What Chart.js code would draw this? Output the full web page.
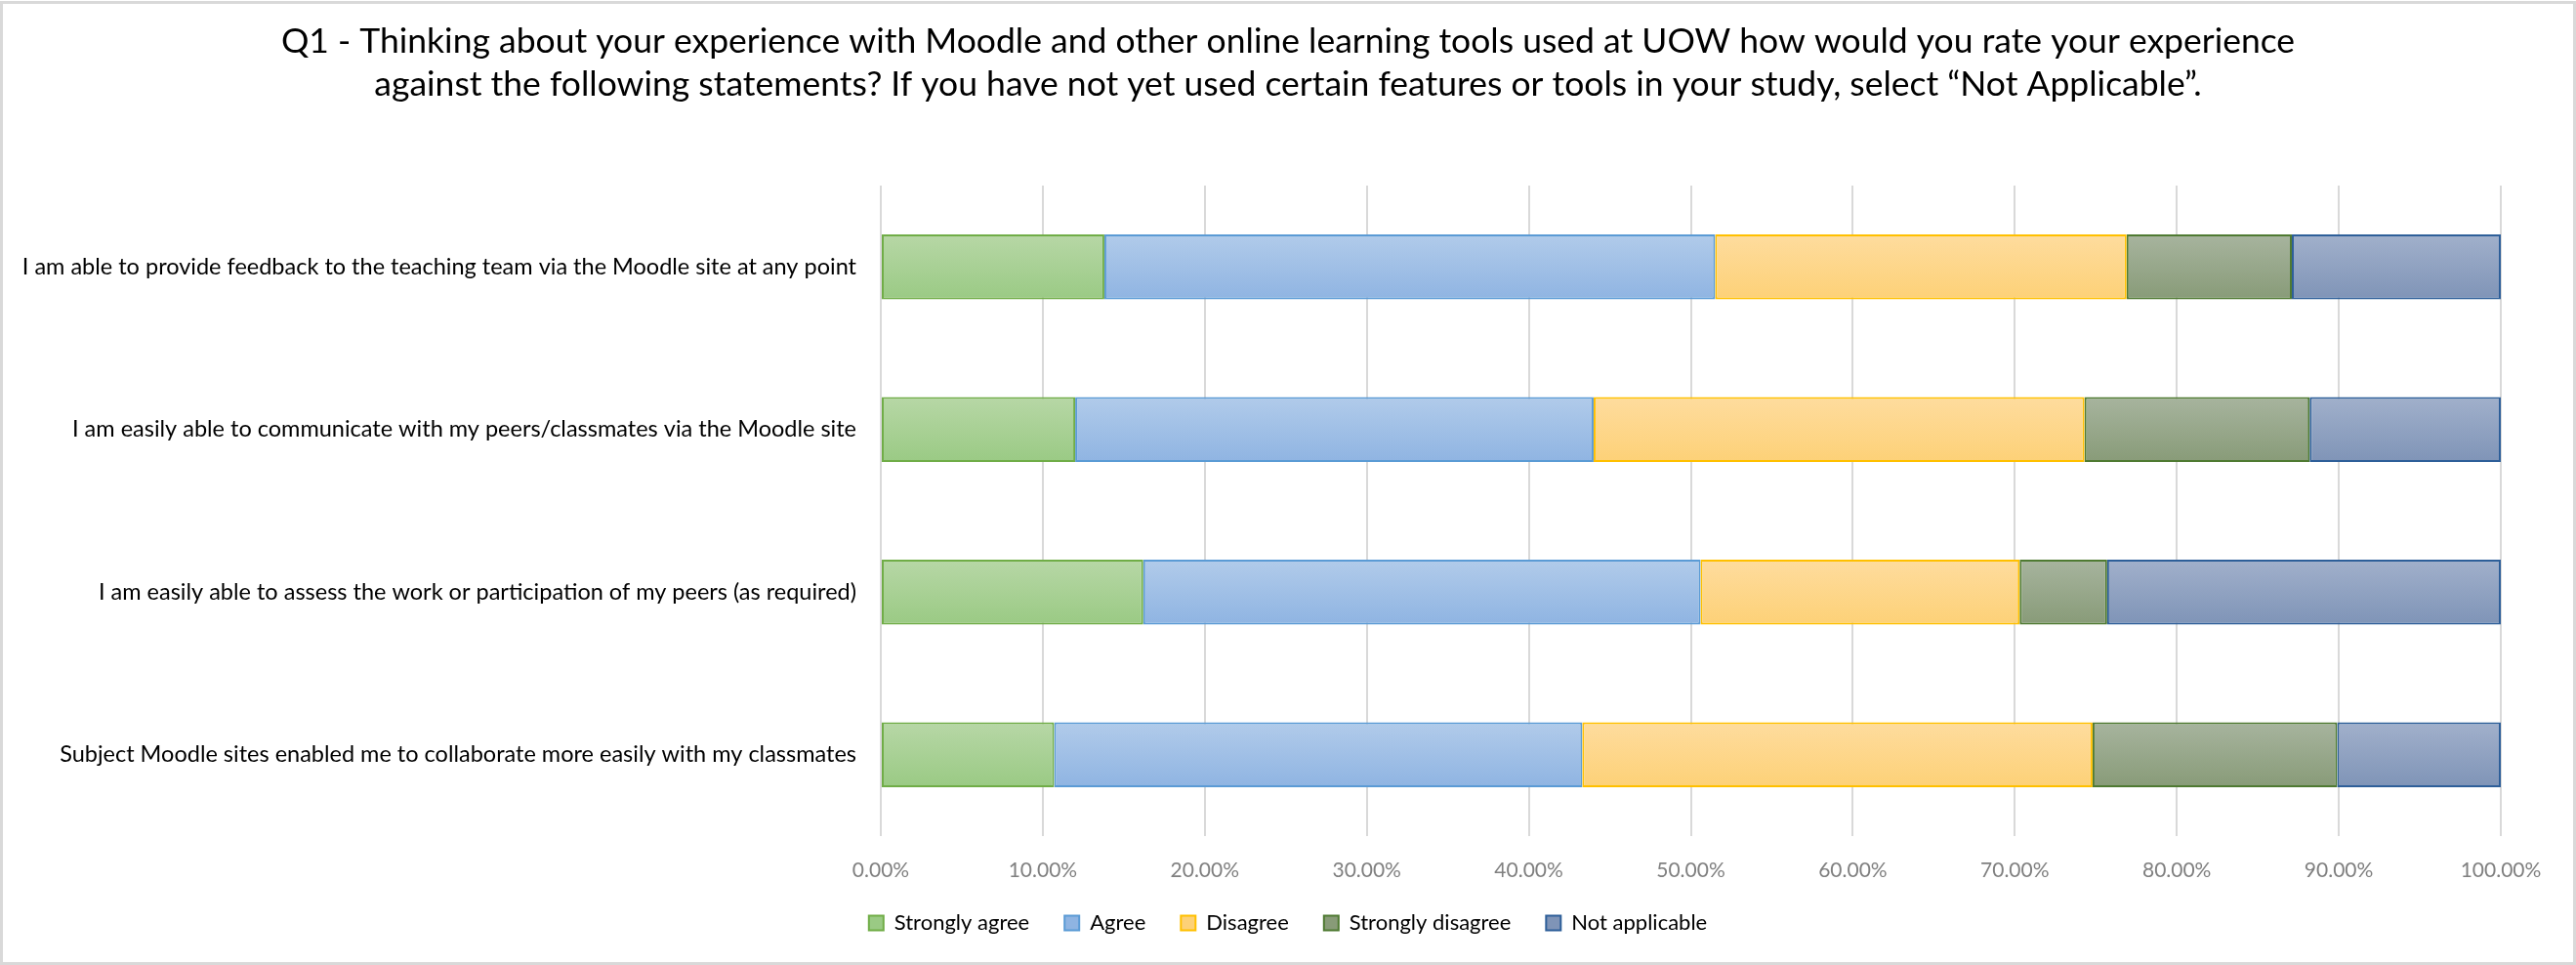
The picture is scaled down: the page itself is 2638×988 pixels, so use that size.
<!DOCTYPE html>
<html>
<head>
<meta charset="utf-8">
<title>Q1 - Moodle experience</title>
<script src="https://cdn.jsdelivr.net/npm/chart.js@4.4.1/dist/chart.umd.min.js"></script>
<style>
  body { margin: 0; background: #fff; overflow: hidden; }
  canvas { display: block; }
</style>
</head>
<body>
<canvas id="grafica" width="2638" height="988"></canvas>
<script>
const titulo = [
  'Q1 - Thinking about your experience with Moodle and other online learning tools used at UOW how would you rate your experience',
  'against the following statements? If you have not yet used certain features or tools in your study, select \u201cNot Applicable\u201d.'
];

const categorias = [
  'I am able to provide feedback to the teaching team via the Moodle site at any point',
  'I am easily able to communicate with my peers/classmates via the Moodle site',
  'I am easily able to assess the work or participation of my peers (as required)',
  'Subject Moodle sites enabled me to collaborate more easily with my classmates'
];

// percentages
const stronglyAgree = [13.8, 12.0, 16.2, 10.7];
const agree = [37.7, 32.0, 34.4, 32.6];
const disagree = [25.4, 30.3, 19.7, 31.5];
const stronglyDisagree = [10.2, 13.9, 5.4, 15.1];
const notApplicable = [12.9, 11.8, 24.3, 10.1];

const xTicks = [0, 10, 20, 30, 40, 50, 60, 70, 80, 90, 100];

// vertical gradient per bar, like the excel fill
function degradado(arriba, abajo) {
  return function (c) {
    if (c.type !== 'data') return abajo;
    const chart = c.chart;
    const area = chart.chartArea;
    const y = chart.scales.y;
    if (!area || !y) return abajo;
    const centro = y.getPixelForValue(c.dataIndex);
    const mitad = (area.bottom - area.top) / categorias.length * 0.4 / 2;
    const g = chart.ctx.createLinearGradient(0, centro - mitad, 0, centro + mitad);
    g.addColorStop(0, arriba);
    g.addColorStop(1, abajo);
    return g;
  };
}

const marco = {
  id: 'marco',
  afterLayout(chart) {
    // title and legend centred on the whole canvas, not on the padded area
    [chart.titleBlock, chart.legend].forEach((b) => {
      if (!b) return;
      b.left = 0;
      b.right = chart.width;
      b.width = chart.width;
    });
  },
  beforeDraw(chart) {
    const ctx = chart.ctx;
    ctx.save();
    ctx.fillStyle = '#ffffff';
    ctx.fillRect(0, 0, chart.width, chart.height);
    ctx.restore();
  },
  afterDraw(chart) {
    const ctx = chart.ctx;
    ctx.save();
    ctx.strokeStyle = '#d9d9d9';
    ctx.lineWidth = 3;
    ctx.strokeRect(1.5, 2.5, chart.width - 3, chart.height - 4);
    ctx.restore();
  }
};

const fuente = 'Lato, "Open Sans", sans-serif';

const ctx = document.getElementById('grafica').getContext('2d');
const grafica = new Chart(ctx, {
  type: 'bar',
  data: {
    labels: categorias,
    datasets: [
      { label: 'Strongly agree', data: stronglyAgree, backgroundColor: degradado('#b7d7a6', '#9aca84'), borderColor: '#70ad47' },
      { label: 'Agree', data: agree, backgroundColor: degradado('#b1cbea', '#8fb4e2'), borderColor: '#5b9bd5' },
      { label: 'Disagree', data: disagree, backgroundColor: degradado('#fedc9e', '#fdd177'), borderColor: '#ffc000' },
      { label: 'Strongly disagree', data: stronglyDisagree, backgroundColor: degradado('#a7b49e', '#889b78'), borderColor: '#4f7a32' },
      { label: 'Not applicable', data: notApplicable, backgroundColor: degradado('#a1b0cb', '#7f94b7'), borderColor: '#2e5f99' }
    ]
  },
  options: {
    indexAxis: 'y',
    responsive: false,
    animation: false,
    devicePixelRatio: 1,
    datasets: {
      bar: {
        categoryPercentage: 1,
        barPercentage: 0.4,
        borderWidth: 2,
        borderSkipped: false
      }
    },
    layout: { padding: { top: 0, left: 0, right: 77, bottom: 22 } },
    scales: {
      x: {
        stacked: true,
        min: 0,
        max: 100,
        afterBuildTicks: (scale) => { scale.ticks = xTicks.map(v => ({ value: v })); },
        afterFit: (scale) => { scale.height = 42; },
        grid: { color: '#d9d9d9', lineWidth: 2, drawTicks: false },
        border: { display: false },
        ticks: {
          padding: 23,
          color: '#808080',
          font: { family: fuente, size: 21 },
          callback: (v) => Number(v).toFixed(2) + '%'
        }
      },
      y: {
        stacked: true,
        afterFit: (scale) => { scale.width = 902; },
        grid: { display: false, drawTicks: false },
        border: { display: false },
        ticks: {
          padding: 25,
          color: '#000000',
          font: { family: fuente, size: 23.5 }
        }
      }
    },
    plugins: {
      title: {
        display: true,
        text: titulo,
        color: '#000000',
        font: { family: fuente, size: 35.5, weight: 'normal', lineHeight: 1.24 },
        padding: { top: 21, bottom: 81 }
      },
      legend: {
        position: 'bottom',
        labels: {
          color: '#000000',
          font: { family: fuente, size: 22 },
          boxWidth: 15,
          boxHeight: 15,
          padding: 36
        }
      },
      tooltip: { enabled: false }
    }
  },
  plugins: [marco]
});
</script>
</body>
</html>
